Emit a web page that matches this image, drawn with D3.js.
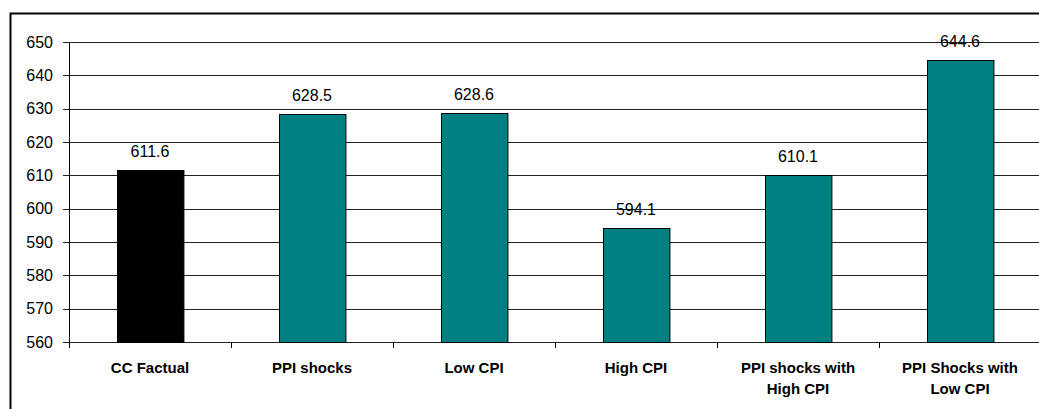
<!DOCTYPE html>
<html>
<head>
<meta charset="utf-8">
<script src="https://cdn.jsdelivr.net/npm/d3@7"></script>
<style>
  body { margin: 0; background: #fff; }
  svg { display: block; font-family: Arial, "Liberation Sans", sans-serif; }
</style>
</head>
<body>
<svg id="chart"></svg>
<script>
const categories = [
  ['CC Factual'],
  ['PPI shocks'],
  ['Low CPI'],
  ['High CPI'],
  ['PPI shocks with', 'High CPI'],
  ['PPI Shocks with', 'Low CPI']
];
const values = [611.6, 628.5, 628.6, 594.1, 610.1, 644.6];
const barColors = ['#000000', '#008080', '#008080', '#008080', '#008080', '#008080'];
const yTicks = [560, 570, 580, 590, 600, 610, 620, 630, 640, 650];

const width = 1039, height = 409;
const margin = {top: 42, left: 69, bottom: 67};
const plotRight = 1041;

const svg = d3.select('#chart')
  .attr('width', width)
  .attr('height', height);

// outer frame
svg.append('rect')
  .attr('x', 10.5).attr('y', 13.5)
  .attr('width', 1100).attr('height', 500)
  .attr('fill', 'none')
  .attr('stroke', '#000')
  .attr('stroke-width', 2);

const xScale = d3.scaleBand()
  .domain(d3.range(categories.length))
  .range([margin.left, plotRight])
  .paddingInner(0.59)
  .paddingOuter(0.295);

const yScale = d3.scaleLinear()
  .domain([560, 650])
  .range([height - margin.bottom, margin.top]);

// gridlines
svg.append('g')
  .selectAll('line')
  .data(yTicks)
  .enter()
  .append('line')
  .attr('x1', margin.left - 6)
  .attr('x2', plotRight)
  .attr('y1', d => Math.round(yScale(d)) + 0.5)
  .attr('y2', d => Math.round(yScale(d)) + 0.5)
  .attr('stroke', '#222')
  .attr('stroke-width', 1);

// y tick labels
svg.append('g')
  .selectAll('text')
  .data(yTicks)
  .enter()
  .append('text')
  .attr('x', margin.left - 16)
  .attr('y', d => yScale(d))
  .attr('dy', '0.36em')
  .attr('text-anchor', 'end')
  .attr('font-size', 16)
  .text(d => d);

// y axis line
svg.append('line')
  .attr('x1', margin.left + 0.5).attr('x2', margin.left + 0.5)
  .attr('y1', yScale(650)).attr('y2', yScale(560) + 6)
  .attr('stroke', '#000');

// category ticks
const step = xScale.step();
svg.append('g')
  .selectAll('line')
  .data(d3.range(categories.length + 1))
  .enter()
  .append('line')
  .attr('x1', d => Math.round(margin.left + d * step) + 0.5)
  .attr('x2', d => Math.round(margin.left + d * step) + 0.5)
  .attr('y1', yScale(560))
  .attr('y2', yScale(560) + 6)
  .attr('stroke', '#000');

// bars
svg.append('g')
  .selectAll('rect')
  .data(values)
  .enter()
  .append('rect')
  .attr('x', (d, i) => Math.round(xScale(i)) + 0.5)
  .attr('y', d => Math.round(yScale(d)) + 0.5)
  .attr('width', xScale.bandwidth())
  .attr('height', d => Math.round(yScale(560)) - Math.round(yScale(d)))
  .attr('fill', (d, i) => barColors[i])
  .attr('stroke', '#000')
  .attr('stroke-width', 1);

// value labels
svg.append('g')
  .selectAll('text')
  .data(values)
  .enter()
  .append('text')
  .attr('x', (d, i) => xScale(i) + xScale.bandwidth() / 2)
  .attr('y', d => yScale(d) - 13)
  .attr('text-anchor', 'middle')
  .attr('font-size', 16)
  .text(d => d.toFixed(1));

// category labels
const catG = svg.append('g')
  .selectAll('text')
  .data(categories)
  .enter()
  .append('text')
  .attr('x', (d, i) => xScale(i) + xScale.bandwidth() / 2)
  .attr('y', 373)
  .attr('text-anchor', 'middle')
  .attr('font-size', 15)
  .attr('font-weight', 'bold');

catG.selectAll('tspan')
  .data(d => d)
  .enter()
  .append('tspan')
  .attr('x', function() { return d3.select(this.parentNode).attr('x'); })
  .attr('dy', (d, i) => i === 0 ? 0 : 21)
  .text(d => d);
</script>
</body>
</html>
